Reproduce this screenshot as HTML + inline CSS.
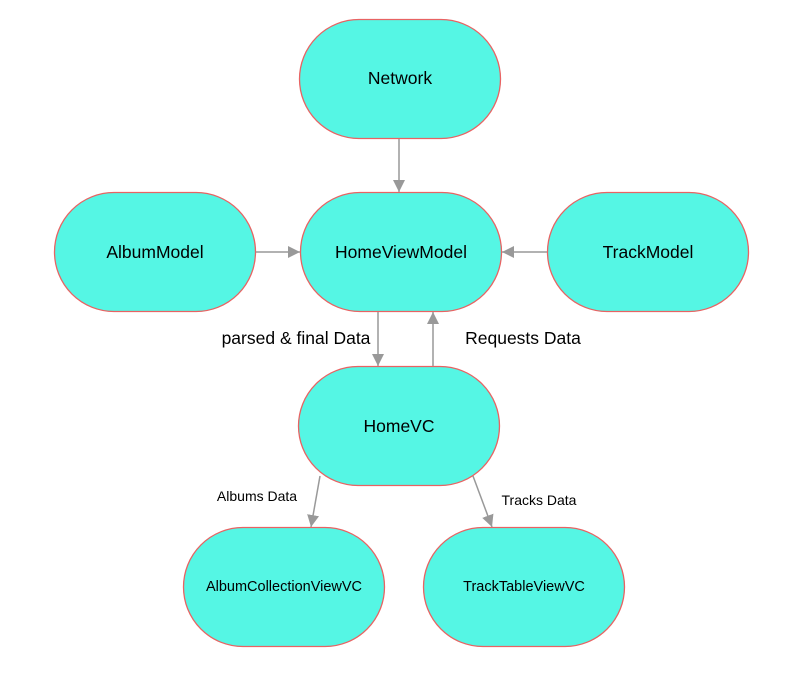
<!DOCTYPE html>
<html><head><meta charset="utf-8"><style>
html,body{margin:0;padding:0;background:#fff;width:800px;height:684px;overflow:hidden}
svg text{font-family:"Liberation Sans",Arial,sans-serif;fill:#000}
</style></head><body>
<svg width="800" height="684" viewBox="0 0 800 684" xmlns="http://www.w3.org/2000/svg">
<defs>
<marker id="a" markerWidth="12" markerHeight="12" refX="12" refY="6" orient="auto" markerUnits="userSpaceOnUse">
<path d="M0,0 L12,6 L0,12 Z" fill="#999"/>
</marker>
</defs>
<g fill="#55f6e4" stroke="#e86363" stroke-width="1.3">
<rect x="299.5" y="19.5" width="201" height="119" rx="59.5"/>
<rect x="54.5" y="192.5" width="201" height="119" rx="59.5"/>
<rect x="300.5" y="192.5" width="201" height="119" rx="59.5"/>
<rect x="547.5" y="192.5" width="201" height="119" rx="59.5"/>
<rect x="298.5" y="366.5" width="201" height="119" rx="59.5"/>
<rect x="183.5" y="527.5" width="201" height="119" rx="59.5"/>
<rect x="423.5" y="527.5" width="201" height="119" rx="59.5"/>
</g>
<g stroke="#999" stroke-width="1.5" fill="none" marker-end="url(#a)">
<line x1="399" y1="139" x2="399" y2="192"/>
<line x1="256" y1="252" x2="300" y2="252"/>
<line x1="547" y1="252" x2="502" y2="252"/>
<line x1="378" y1="312" x2="378" y2="366"/>
<line x1="433" y1="366" x2="433" y2="312"/>
<line x1="320" y1="476" x2="311" y2="527"/>
<line x1="473" y1="476" x2="492" y2="527"/>
</g>
<g font-size="17.5" text-anchor="middle">
<text x="400" y="84">Network</text>
<text x="155" y="258">AlbumModel</text>
<text x="401" y="258">HomeViewModel</text>
<text x="648" y="258">TrackModel</text>
<text x="399" y="432">HomeVC</text>
<text x="296" y="344">parsed &amp; final Data</text>
<text x="523" y="344">Requests Data</text>
</g>
<g font-size="14.5" text-anchor="middle">
<text x="284" y="591">AlbumCollectionViewVC</text>
<text x="524" y="591">TrackTableViewVC</text>
</g>
<g font-size="14" text-anchor="middle">
<text x="257" y="501">Albums Data</text>
<text x="539" y="505">Tracks Data</text>
</g>
</svg>
</body></html>
